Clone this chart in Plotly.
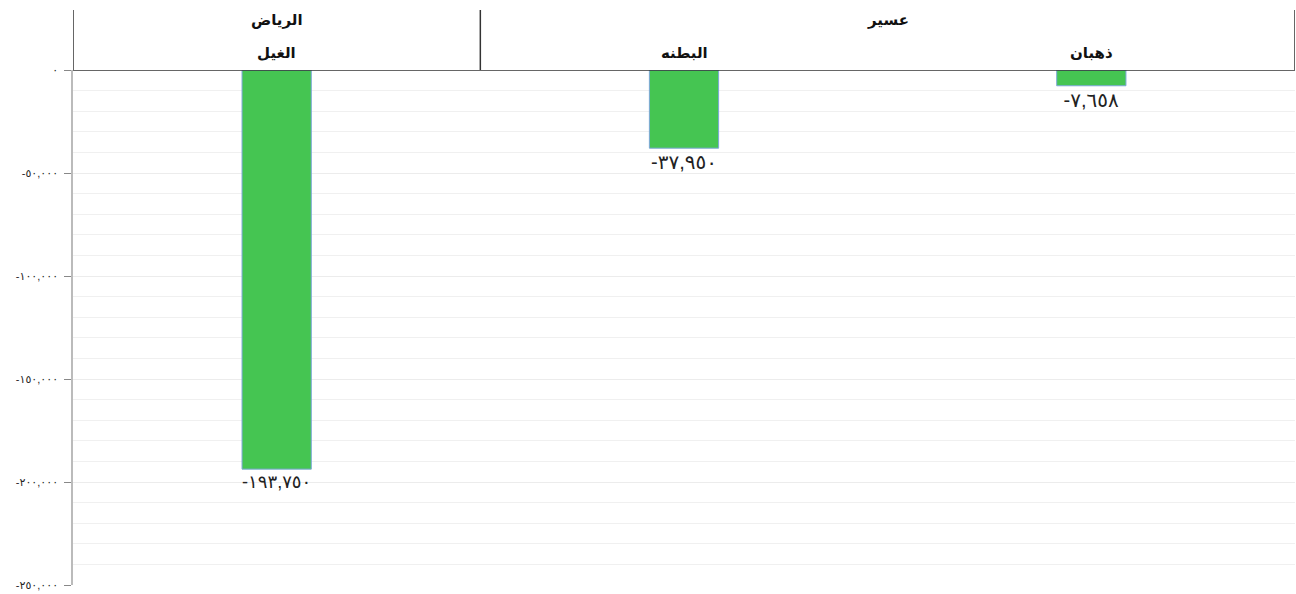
import plotly.graph_objects as go

groups = ["الرياض", "عسير", "عسير"]
categories = ["الغيل", "البطنه", "ذهبان"]
values = [-193750, -37950, -7658]
tick_vals = [0, -50000, -100000, -150000, -200000, -250000]

AR = str.maketrans("0123456789", "٠١٢٣٤٥٦٧٨٩")


def ar(v):
    return f"{v:,}".translate(AR)


tick_text = [ar(v) for v in tick_vals]
labels = [ar(v) for v in values]

FONT = "Arial, 'Liberation Sans', 'DejaVu Sans', sans-serif"

fig = go.Figure(
    go.Bar(
        x=categories,
        y=values,
        width=0.17,
        marker=dict(color="#45c552", line=dict(color="#7da7d9", width=1)),
        text=labels,
        textposition="outside",
        textfont=dict(size=20, color="#222", family=FONT),
        cliponaxis=False,
        hoverinfo="skip",
    )
)

header_h = 60 / 515.0

shapes = []
for xv in [-0.5, 0.5, 2.5]:
    shapes.append(dict(type="line", xref="x", yref="paper", x0=xv, x1=xv,
                       y0=1, y1=1 + header_h, line=dict(color="#333", width=1.5)))
shapes.append(dict(type="line", xref="paper", yref="y", x0=0, x1=1, y0=0, y1=0,
                   line=dict(color="#333", width=1.5)))

annotations = []
grp_spans = {}
for i, g in enumerate(groups):
    grp_spans.setdefault(g, []).append(i)
for g, idx in grp_spans.items():
    annotations.append(dict(x=sum(idx) / len(idx), y=1, xref="x", yref="paper",
                            text=f"<b>{g}</b>", showarrow=False, yanchor="middle",
                            yshift=50, font=dict(size=15, color="#111", family=FONT)))
for i, c in enumerate(categories):
    annotations.append(dict(x=i, y=1, xref="x", yref="paper",
                            text=f"<b>{c}</b>", showarrow=False, yanchor="middle",
                            yshift=18, font=dict(size=15, color="#111", family=FONT)))

fig.update_layout(
    width=1296, height=594,
    margin=dict(l=73, r=1, t=70, b=9),
    plot_bgcolor="white", paper_bgcolor="white",
    showlegend=False,
    shapes=shapes,
    annotations=annotations,
    xaxis=dict(range=[-0.5, 2.5], showticklabels=False, showgrid=False,
               zeroline=False, showline=False, ticks=""),
    yaxis=dict(range=[-250000, 0], tickvals=tick_vals, ticktext=tick_text,
               ticks="outside", ticklen=7, tickcolor="#888",
               ticklabelstandoff=4,
               tickfont=dict(size=11, color="#222", family=FONT),
               showline=True, linecolor="#bbb", linewidth=1.5,
               showgrid=True, gridcolor="#ececec", gridwidth=1,
               zeroline=False,
               minor=dict(dtick=10000, tick0=0, showgrid=True,
                          gridcolor="#f0f0f0", ticks="")),
)

fig.write_html(
    "out.html",
    config={"displayModeBar": False},
    post_script="document.body.style.margin='0';document.body.style.overflow='hidden';",
)
